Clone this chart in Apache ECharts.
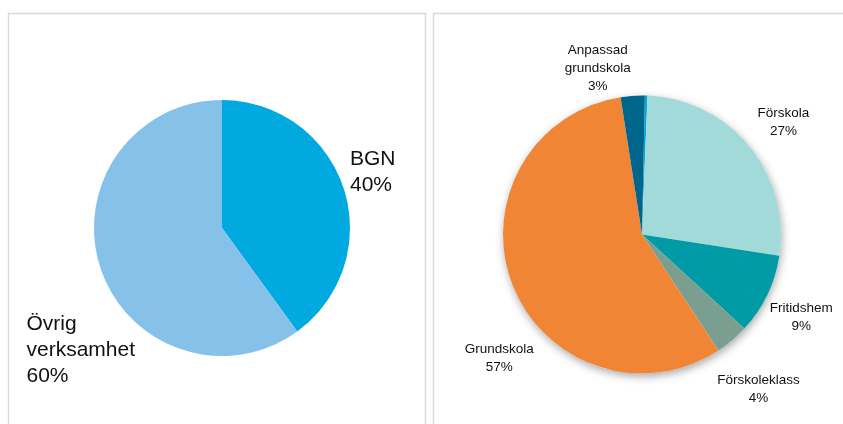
<!DOCTYPE html>
<html>
<head>
<meta charset="utf-8">
<script src="https://cdn.jsdelivr.net/npm/echarts@6/dist/echarts.min.js"></script>
<style>
html,body{margin:0;padding:0;background:#fff;}
#c{width:843px;height:424px;}
</style>
</head>
<body>
<div id="c"></div>
<script>
// ---- data ----
var leftNames = ['BGN', 'Övrig verksamhet'];
var leftValues = [40, 60];

var rightNames = ['Övrigt', 'Förskola', 'Fritidshem', 'Förskoleklass', 'Grundskola', 'Anpassad grundskola'];
var rightValues = [0.3, 26.8, 9.4, 3.9, 56.8, 2.8];

// ---- styles ----
var leftColors = ['#00A9E0', '#85C1E9'];
var rightColors = ['#00A9E0', '#A1DAD8', '#009BA4', '#7A9E90', '#F08536', '#00658A'];
// label nudges (style only)
var leftNudge = { 'BGN': {dx: -3.5, dy: -15, align: 'left'}, 'Övrig verksamhet': {dx: -64, dy: 81, align: 'left'} };
var rightNudge = {
  'Förskola': {dx: 6, dy: -5},
  'Fritidshem': {dx: 2, dy: 10},
  'Förskoleklass': {dx: 2, dy: 26},
  'Grundskola': {dx: 20, dy: 63},
  'Anpassad grundskola': {dx: -28, dy: 2}
};

function sum(a){ return a.reduce(function(s,v){return s+v;},0); }
var leftTotal = sum(leftValues), rightTotal = sum(rightValues);

var leftData = leftNames.map(function(n,i){
  return { name: n, value: leftValues[i], itemStyle: { color: leftColors[i] } };
});
var rightData = rightNames.map(function(n,i){
  var d = { name: n, value: rightValues[i], itemStyle: { color: rightColors[i] } };
  if (!rightNudge[n]) d.label = { show: false };
  return d;
});

var chart = echarts.init(document.getElementById('c'), null, {renderer: 'canvas'});
chart.setOption({
  animation: false,
  backgroundColor: '#fff',
  graphic: [
    { type: 'rect', z: 0, shape: { x: 8.5, y: 13.5, width: 417, height: 440 }, style: { fill: 'none', stroke: '#d9d9d9', lineWidth: 1.5 } },
    { type: 'rect', z: 0, shape: { x: 433.5, y: 13.5, width: 440, height: 440 }, style: { fill: 'none', stroke: '#d9d9d9', lineWidth: 1.5 } }
  ],
  series: [
    {
      type: 'pie', left: 0, top: 0, width: 1600, height: 1600,
      center: [222, 228], radius: 128, startAngle: 90,
      avoidLabelOverlap: false, silent: true,
      label: {
        show: true, position: 'outside', fontFamily: 'Liberation Sans', fontSize: 21,
        lineHeight: 26, color: '#111111', distanceToLabelLine: 5,
        formatter: function(p){ return p.name.replace(' ', '\n') + '\n' + Math.round(p.value / leftTotal * 100) + '%'; }
      },
      labelLine: { show: false, length: 5, length2: 0 },
      labelLayout: function(p){
        var n = leftNudge[leftNames[p.dataIndex]];
        return n ? { dx: n.dx, dy: n.dy, align: n.align } : {};
      },
      data: leftData
    },
    {
      type: 'pie', left: 0, top: 0, width: 1600, height: 1600,
      center: [642, 234.5], radius: 139, silent: true, z: 1,
      label: { show: false }, labelLine: { show: false },
      itemStyle: { color: '#ffffff', shadowBlur: 9, shadowColor: 'rgba(0,0,0,0.35)', shadowOffsetX: 1, shadowOffsetY: 3 },
      data: [{ value: rightTotal, name: 'bg' }]
    },
    {
      type: 'pie', left: 0, top: 0, width: 1600, height: 1600,
      center: [642, 234.5], radius: 139, startAngle: 88.8, z: 2,
      avoidLabelOverlap: false, silent: true,
      label: {
        show: true, position: 'outside', fontFamily: 'Liberation Sans', fontSize: 13.5,
        lineHeight: 18, color: '#111111', distanceToLabelLine: 5,
        formatter: function(p){ return p.name.replace(' ', '\n') + '\n' + Math.round(p.value / rightTotal * 100) + '%'; }
      },
      labelLine: { show: false, length: 30, length2: 0 },
      labelLayout: function(p){
        var n = rightNudge[rightNames[p.dataIndex]];
        return n ? { dx: n.dx, dy: n.dy, align: 'center' } : {};
      },
      data: rightData
    }
  ]
});
</script>
</body>
</html>
